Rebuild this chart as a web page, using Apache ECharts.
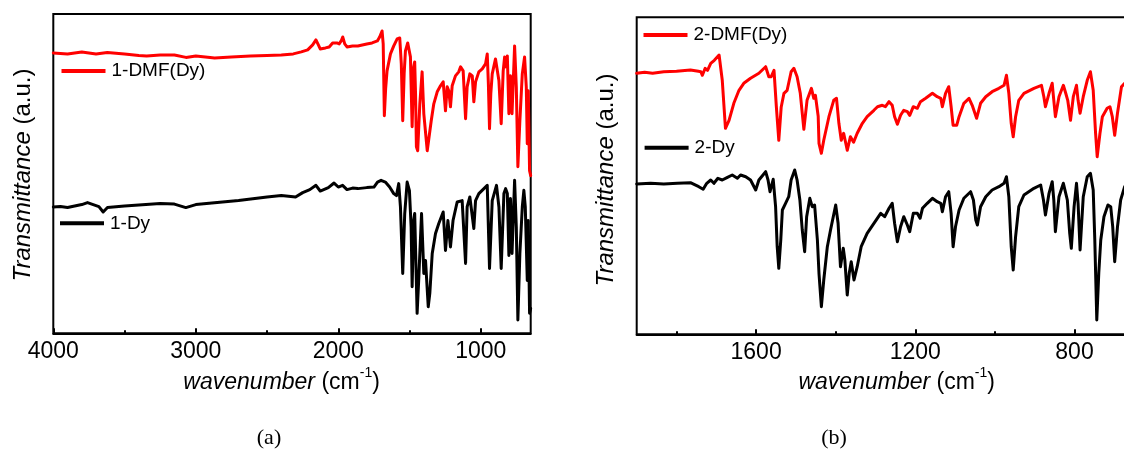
<!DOCTYPE html>
<html><head><meta charset="utf-8">
<script src="https://cdn.jsdelivr.net/npm/echarts@6/dist/echarts.min.js"></script>
<style>html,body{margin:0;padding:0;background:#fff}#c{width:1124px;height:456px}</style>
</head><body><div id="c"></div>
<script>
// ---- Panel (a): 1-DMF(Dy) (red) ----
const dmf1Wn = [4000,3900,3800,3700,3621,3500,3400,3345,3250,3150,3069,3000,2900,2868,2750,2617,2500,2400,2316,2260,2215,2180,2157,2140,2127,2090,2064,2040,2026,2010,1994,1980,1969,1955,1939,1900,1863,1800,1763,1726,1710,1693,1685,1677,1668,1658,1634,1611,1587,1569,1558,1548,1538,1529,1513,1494,1482,1471,1464,1458,1452,1443,1428,1412,1400,1388,1376,1365,1348,1330,1306,1283,1264,1248,1236,1225,1213,1201,1178,1155,1142,1124,1107,1096,1077,1060,1049,1037,1014,990,967,955,947,939,930,920,897,885,873,857,843,833,824,814,803,792,781,763,751,740,726,709,693,681,674,667,658,650];
const dmf1T  = [281,280,282,280,281.5,280,278.5,278,279,279,276.5,278,276.5,276,277,278,278.5,279,280,282,284,289,294,289,285,286,287,291,293,291,290,293,297,290,287,288,288,290,291,293,297,303,290,218,245,263,280,288,295,296,270,213,260,283,291,277,207,267,272,240,187,183,230,262,220,220,183,183,213,230,242,248,252,223,247,243,227,248,258,262,267,263,215,247,260,258,232,252,262,265,270,280,250,205,240,260,275,277,253,210,263,277,267,278,220,258,220,288,247,167,213,260,277,247,190,243,163,158];
// ---- Panel (a): 1-Dy (black) ----
const dy1Wn = [4000,3950,3900,3850,3800,3760,3720,3680,3650,3620,3500,3400,3250,3150,3070,3000,2850,2700,2500,2400,2300,2250,2200,2157,2127,2070,2030,2000,1970,1939,1900,1863,1800,1750,1725,1700,1670,1640,1611,1592,1576,1564,1548,1534,1517,1501,1489,1482,1471,1464,1447,1436,1416,1400,1388,1369,1358,1341,1318,1295,1264,1248,1231,1213,1195,1166,1131,1107,1096,1077,1049,1037,1014,955,939,920,890,873,857,838,826,814,803,792,781,763,751,740,726,709,698,688,674,667,658,650];
const dy1T  = [126.6,127,126,127.5,129,131,129,127,121.6,126,127.6,128.5,130,129.5,126,129,131,133,136.6,138,136.6,141,144,148.3,142.6,146,150.6,146.6,148.3,144,145.5,145,146,146.6,151.6,153.3,151.6,146.6,140,138,150,126.6,60,120,151.6,143,106.6,46.6,113,120,20,53,120,60,73,26.6,40,80,100,110,121.6,83,113,86.6,113,131.6,133,70,126.6,136.6,105,133,140,148.3,65,133,148.3,126.6,65,140,145,140,78,135,80,153.3,106.6,13.3,80,126.6,143.3,126.6,53,113,20,25];
// ---- Panel (b): 2-DMF(Dy) (red) ----
const dmf2Wn = [1900,1880,1860,1832,1800,1765,1745,1739,1735,1728,1722,1714,1705,1693,1685,1677,1668,1656,1643,1631,1614,1593,1576,1568,1562,1555,1549,1543,1537,1530,1522,1512,1505,1497,1489,1480,1472,1461,1455,1451,1444,1442,1436,1430,1417,1405,1398,1392,1386,1380,1371,1363,1355,1346,1333,1321,1304,1295,1283,1275,1266,1258,1252,1245,1237,1229,1220,1214,1205,1195,1187,1174,1157,1145,1136,1132,1124,1116,1110,1105,1096,1090,1078,1065,1057,1046,1036,1023,1007,990,977,971,965,959,954,948,940,927,902,883,877,873,864,856,852,848,839,828,822,817,810,803,795,791,786,778,768,760,753,747,743,736,730,718,711,705,699,692,682,674,665];
const dmf2T  = [261,262,261,262.6,263,264.3,263,262.6,259,266,264,271,274,279.3,254,206,214,231,244,251,256,261,267.6,257.6,257.6,264,227,194,227,241,244,262.6,266,257.6,241,205,234,246,236,239,218,191,181,194,217.6,234,236,211,194,201,184,197.6,192,201,211,217.6,224,227.6,229,227.6,232.6,229,217.6,210,219,224,222.6,219,227.6,226,232.6,236,241,237.6,236,227.6,241,247.6,227.6,209,209,217.6,231,236,229,216,231,237.6,242.6,246,249,259,241,211,197.6,217.6,234,241,246,249,237.6,227.6,241,251,234,217.6,237.6,249,241,234,214,237.6,249,234,221,237.6,254,262.6,244,201,177.6,201,217.6,226,227.6,217.6,199,221,247.6,251,255];
// ---- Panel (b): 2-Dy (black) ----
const dy2Wn = [1900,1865,1832,1798,1765,1744,1733,1724,1714,1706,1696,1685,1672,1660,1647,1639,1626,1614,1601,1593,1576,1570,1565,1557,1551,1547,1543,1538,1534,1526,1518,1512,1503,1497,1490,1484,1478,1473,1465,1459,1453,1446,1442,1436,1430,1421,1413,1400,1394,1388,1381,1377,1371,1366,1361,1354,1346,1336,1321,1304,1287,1277,1266,1258,1252,1245,1237,1229,1220,1214,1205,1195,1188,1182,1170,1157,1145,1136,1132,1124,1116,1110,1105,1099,1090,1078,1061,1054,1048,1044,1036,1023,1007,990,977,971,965,959,954,948,940,927,902,885,878,873,864,856,852,848,839,828,818,812,808,801,795,791,786,778,768,760,753,749,744,739,734,726,716,709,704,699,692,684,674,665];
const dy2T  = [150.3,151,150.3,151,151.6,147.6,145,151,154.3,151,156,154.3,157,159.3,156,159.3,157.6,154.3,144.3,154.3,162.6,154.3,142.6,155,127.6,87.6,66,94.3,124.3,131,137.6,154.3,164.3,154.3,134.3,104.3,82.6,117.6,136,127.6,129.3,94.3,61,27.6,54.3,87.6,104.3,129.3,111,67.6,86,74.3,39.3,61,72.6,54.3,67.6,87.6,101,111,121,117.6,126,131,111,92.6,107.6,117.6,109.3,102.6,121,121,116,126,131,136,132.6,131,122.6,137.6,142.6,121,87.6,107.6,124.3,136,142.6,134.3,114.3,109.3,127.6,137.6,144.3,147.6,151,157.6,137.6,87.6,64.3,97.6,127.6,139.3,146,149.3,134.3,119.3,141,152.6,134.3,102.6,137.6,151,134.3,101,86,127.6,151,131,84.3,137.6,157.6,161,144.3,94.3,14.3,61,94.3,117.6,129.3,127.6,107.6,72.6,107.6,134.3,147.6,152];
// ---- ticks ----
const majorA = [4000,3000,2000,1000];
const minorA = [3500,2500,1500];
const majorB = [1600,1200,800];
const minorB = [1800,1400,1000];

function zip(a,b){return a.map((v,i)=>[v,b[i]]);}
const FONT = 'Liberation Sans, Arial, sans-serif';
const chart = echarts.init(document.getElementById('c'), null, {renderer:'canvas'});

function mainX(grid, min, max, ticks){
  return {type:'value', gridIndex:grid, min:min, max:max, inverse:true, position:'bottom',
    axisLine:{show:true, onZero:false, lineStyle:{color:'#000', width:2}},
    axisTick:{show:true, inside:true, length:5, customValues:ticks, lineStyle:{color:'#000', width:2}},
    axisLabel:{show:true, customValues:ticks, margin:7, fontSize:23, color:'#000', fontFamily:FONT,
      formatter:function(v){return String(v);}},
    splitLine:{show:false}};
}
function minorX(grid, min, max, ticks){
  return {type:'value', gridIndex:grid, min:min, max:max, inverse:true, position:'bottom', offset:0,
    axisLine:{show:false, onZero:false},
    axisTick:{show:true, inside:true, length:3, customValues:ticks, lineStyle:{color:'#000', width:2}},
    axisLabel:{show:false}, splitLine:{show:false}};
}
function yAx(grid, max){
  return {type:'value', gridIndex:grid, min:0, max:max, show:false, splitLine:{show:false}};
}
function line(name, xi, yi, data, color){
  return {name:name, type:'line', xAxisIndex:xi, yAxisIndex:yi, data:data, symbol:'none', smooth:false,
    lineStyle:{color:color, width:3, join:'round', cap:'round'}, itemStyle:{color:color}, animation:false, z:3};
}
function leg(name, left, top){
  return {data:[name], left:left, top:top, padding:0, icon:'rect', itemWidth:44, itemHeight:4, selectedMode:false,
    textStyle:{fontSize:19, color:'#000', fontFamily:FONT, padding:[0,0,0,1]}};
}
function txt(x, y, text, size, rot, rich, family){
  return {type:'text', x:x, y:y, rotation:rot||0, z:10,
    style:{text:text, fontSize:size, fontFamily:family||FONT, fill:'#000', align:'center', verticalAlign:'middle', rich:rich||{}}};
}
const richY = {i:{fontStyle:'italic', fontSize:24, fontFamily:FONT, fill:'#000'}, n:{fontSize:24, fontFamily:FONT, fill:'#000'}};
const richX = {i:{fontStyle:'italic', fontSize:23, fontFamily:FONT, fill:'#000', lineHeight:28, verticalAlign:'bottom'}, n:{fontSize:23, fontFamily:FONT, fill:'#000', lineHeight:28, verticalAlign:'bottom'}, s:{fontSize:14, fontFamily:FONT, fill:'#000', lineHeight:28, verticalAlign:'top'}};

chart.setOption({
  animation:false,
  backgroundColor:'#fff',
  grid:[
    {left:53.3, top:14, width:477.4, height:319.3, show:true, borderColor:'#000', borderWidth:2, backgroundColor:'transparent', containLabel:false, outerBoundsMode:'none'},
    {left:636.7, top:17.3, width:517.4, height:317, show:true, borderColor:'#000', borderWidth:2, backgroundColor:'transparent', containLabel:false, outerBoundsMode:'none'}
  ],
  xAxis:[ mainX(0,650,4000,majorA), minorX(0,650,4000,minorA), mainX(1,600,1900,majorB), minorX(1,600,1900,minorB) ],
  yAxis:[ yAx(0,320), yAx(1,317) ],
  legend:[ leg('1-DMF(Dy)',61.5,61.5), leg('1-Dy',60,213.8), leg('2-DMF(Dy)',643.5,25.5), leg('2-Dy',644.6,138.2) ],
  series:[
    line('1-DMF(Dy)',0,0,zip(dmf1Wn,dmf1T),'#ff0000'),
    line('1-Dy',0,0,zip(dy1Wn,dy1T),'#000000'),
    line('2-DMF(Dy)',2,1,zip(dmf2Wn,dmf2T),'#ff0000'),
    line('2-Dy',2,1,zip(dy2Wn,dy2T),'#000000')
  ],
  graphic:[
    txt(23.3,175,'{i|Transmittance}{n| (a.u.)}',24,Math.PI/2,richY),
    txt(606,180,'{i|Transmittance}{n| (a.u.)}',24,Math.PI/2,richY),
    txt(281.6,380,'{i|wavenumber}{n| (cm}{s|-1}{n|)}',23,0,richX),
    txt(896.7,380,'{i|wavenumber}{n| (cm}{s|-1}{n|)}',23,0,richX),
    txt(269,438,'(a)',22,0,{},'Liberation Serif, Times New Roman, serif'),
    txt(834,438,'(b)',22,0,{},'Liberation Serif, Times New Roman, serif')
  ]
});
</script></body></html>
